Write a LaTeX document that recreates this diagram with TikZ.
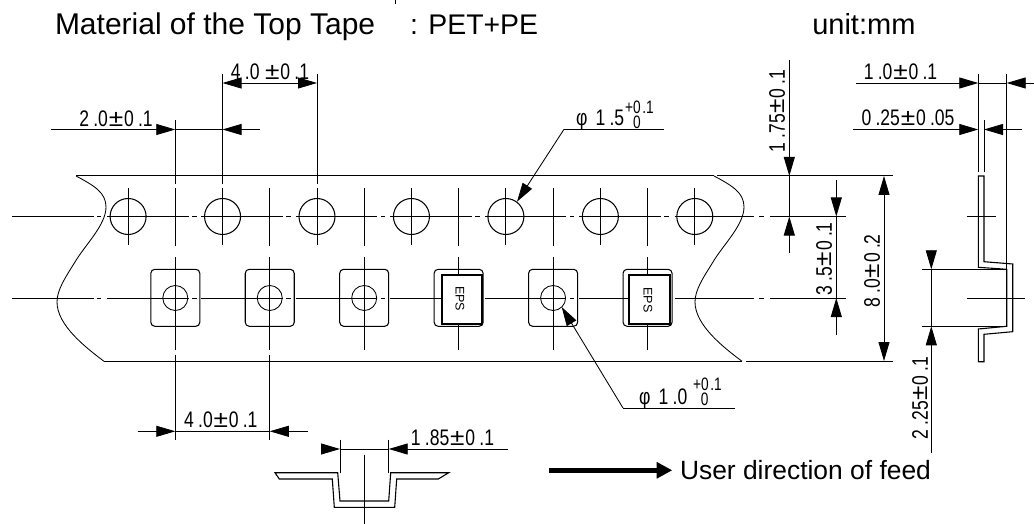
\documentclass[tikz,border=0pt]{standalone}
\usepackage{fontspec}
\usepackage{graphicx}
\setmainfont{Liberation Sans}
\usetikzlibrary{arrows.meta}
\newcommand{\dimt}[1]{\scalebox{.78}[1]{\fontsize{22.5}{22.5}\selectfont #1}}
\newcommand{\tolt}[1]{\scalebox{.76}[1]{\fontsize{18}{18}\selectfont #1}}
\newcommand{\gp}{\kern5.5pt}
\newcommand{\tgp}{\kern2pt}
\newcommand{\pmk}{\kern1pt\scalebox{1.5}[1.05]{±}\kern1pt}
\tikzset{
  thin line/.style={line width=.85pt,black},
  edge line/.style={line width=1.2pt,black},
  tip/.style={thin line,-{Triangle[length=19pt,width=11pt,sep=0pt]}},
  label/.style={inner sep=0pt,outer sep=0pt,anchor=center,text=black},
  big/.style={inner sep=0pt,outer sep=0pt,anchor=base west,font=\fontsize{29}{30}\selectfont},
  feed/.style={inner sep=0pt,outer sep=0pt,anchor=base west,font=\fontsize{26.4}{28}\selectfont},
  pocket/.style={line width=1.05pt,rounded corners=4pt},
  die/.style={line width=2pt,fill=white},
  section/.style={line width=1.1pt,line join=miter}
}
\begin{document}
\begin{tikzpicture}[x=1pt,y=-1pt]
\useasboundingbox (0,0) rectangle (1034,524);
\fill[white] (0,0) rectangle (1034,524);
% clipped descender of the line above
\draw[line width=1.4pt] (395.7,0) -- (395.7,4.5);
% titles
\node[big,font=\fontsize{30}{30}\selectfont] (title) at (55,34.5) {Material of the Top Tape};
\node[big,font=\fontsize{28.4}{30}\selectfont] (mat) at (410,34.5) {: PET+PE};
\node[big] (unit) at (812.3,35) {unit:mm};
% tape edges
\draw[edge line] (76,175.7) -- (714,175.7);
\draw[edge line] (717,175.7) -- (893,175.7);
\draw[edge line] (104,361.3) -- (742,361.3);
\draw[edge line] (746,361.3) -- (893,361.3);
\foreach \s in {0,638}{
  \begin{scope}[xshift=\s pt]
  \draw[thin line] (76,176) .. controls (95,186) and (106,193) .. (106,207)
     .. controls (106,225) and (85,245) .. (75,262)
     .. controls (65,278) and (57,290) .. (57,302)
     .. controls (57,325) and (85,347) .. (104,361.3);
  \end{scope}
}
% centre lines (chain lines)
\foreach \y in {216.5,298}{
  \draw[thin line] (12,\y) -- (94,\y);
  \draw[thin line] (97,\y) -- (101,\y);
  \foreach \k in {0,...,5}{
    \draw[thin line] ({107+94.45*\k},\y) -- ({188.5+94.45*\k},\y);
    \draw[thin line] ({192+94.45*\k},\y) -- ({196.5+94.45*\k},\y);
  }
  \draw[thin line] (674.7,\y) -- (754,\y);
  \draw[thin line] (759,\y) -- (764,\y);
  \draw[thin line] (770,\y) -- (846,\y);
}
% sprocket holes
\foreach \k in {0,...,6}{
  \draw[line width=1.05pt] ({128.1+94.45*\k},216.5) circle[radius=18];
  \draw[thin line] ({128.1+94.45*\k},188) -- ({128.1+94.45*\k},245);
}
% mid vertical lines
\foreach \k in {0,...,5}{
  \draw[thin line] ({175.3+94.45*\k},188) -- ({175.3+94.45*\k},246);
  \draw[thin line] ({175.3+94.45*\k},257) -- ({175.3+94.45*\k},350);
}
% pockets
\foreach \k in {0,...,5}{
  \draw[pocket] ({150.8+94.45*\k},269.3) rectangle ({199.8+94.45*\k},326.3);
}
\foreach \k in {0,1,2,4}{
  \draw[thin line] ({175.3+94.45*\k},298) circle[radius=12.5];
}
\draw[die] (441.5,274.5) rectangle (481.5,323.5);
\draw[die] (629,274.7) rectangle (669.5,324);
\node[label,rotate=-90,font=\fontsize{12.5}{13}\selectfont] (eps1) at (460,298.7) {EPS};
\node[label,rotate=-90,font=\fontsize{12.5}{13}\selectfont] (eps2) at (648,300) {EPS};
% 4.0 +- 0.1 top
\draw[thin line] (222.5,74) -- (222.5,184);
\draw[thin line] (317,74) -- (317,184);
\draw[thin line] (241,83) -- (298,83);
\draw[tip] (241,83) -- (222.5,83);
\draw[tip] (298,83) -- (317,83);
\node[label] (d40a) at (270,72) {\dimt{4\gp.0 \pmk0\gp.1}};
% 2.0 +- 0.1
\draw[thin line] (175.3,120) -- (175.3,184);
\draw[tip] (51,129.5) -- (175.3,129.5);
\draw[thin line] (175.3,129.5) -- (222.5,129.5);
\draw[tip] (260,129.5) -- (222.5,129.5);
\node[label] (d20) at (116,118.5) {\dimt{2\gp.0\pmk0\gp.1}};
% 4.0 +- 0.1 bottom
\draw[thin line] (175.3,354.5) -- (175.3,440.3);
\draw[thin line] (269.75,354.5) -- (269.75,440.3);
\draw[tip] (137.7,431.3) -- (175.3,431.3);
\draw[thin line] (175.3,431.3) -- (269.75,431.3);
\draw[tip] (307.7,431.3) -- (269.75,431.3);
\node[label] (d40b) at (220.8,420) {\dimt{4\gp.0\pmk0\gp.1}};
% phi 1.5 leader
\coordinate (l15a) at (664,129.3);
\coordinate (l15b) at (564,129.3);
\coordinate (l15c) at (517,201.7);
\draw[thin line] (l15a) -- (l15b);
\draw[tip] (l15b) -- (l15c);
\node[inner sep=0pt,anchor=base west] (p15) at (576,126) {\dimt{φ\kern4pt{} 1\gp.5}};
\node[label] (p15u) at (639.5,107) {\tolt{+0\tgp.1}};
\node[label] (p15l) at (637,122) {\tolt{0}};
% phi 1.0 leader
\coordinate (l10a) at (734.7,408);
\coordinate (l10b) at (623,408);
\coordinate (l10c) at (561.7,307);
\draw[thin line] (l10a) -- (l10b);
\draw[tip] (l10b) -- (l10c);
\node[inner sep=0pt,anchor=base west] (p10) at (639,404.7) {\dimt{φ\kern4pt{} 1\gp.0}};
\node[label] (p10u) at (707.5,384.5) {\tolt{+0\tgp.1}};
\node[label] (p10l) at (704.6,399.5) {\tolt{0}};
% 1.75
\draw[thin line] (789.3,176) -- (789.3,216.5);
\draw[tip] (789.3,60) -- (789.3,176);
\draw[tip] (789.3,253) -- (789.3,216.5);
\draw[edge line] (770,216.5) -- (799,216.5);
\node[label,rotate=90] (d175) at (777,111) {\dimt{1\gp.75\pmk0\gp.1}};
% 3.5
\draw[thin line] (836.3,216.5) -- (836.3,298);
\draw[tip] (836.3,180) -- (836.3,216.5);
\draw[tip] (836.3,334.7) -- (836.3,298);
\node[label,rotate=90] (d35) at (824,259) {\dimt{3\gp.5\pmk0\gp.1}};
% 8.0
\draw[thin line] (884,195) -- (884,342);
\draw[tip] (884,195) -- (884,176);
\draw[tip] (884,342) -- (884,361);
\node[label,rotate=90] (d80) at (872,271) {\dimt{8\gp.0\pmk0\gp.2}};
% 1.0 / 0.25
\draw[thin line] (978.3,74) -- (978.3,172);
\draw[thin line] (1006.7,74) -- (1006.7,326.3);
\draw[thin line] (984,120) -- (984,172);
\draw[tip] (856,83) -- (978.3,83);
\draw[thin line] (978.3,83) -- (1006.7,83);
\draw[tip] (1034,83) -- (1006.7,83);
\node[label] (d10) at (900.5,72) {\dimt{1\gp.0\pmk0\gp.1}};
\draw[tip] (853,129.5) -- (978.3,129.5);
\draw[tip] (1022,129.5) -- (984,129.5);
\node[label] (d025) at (908,118) {\dimt{0\gp.25\pmk0\gp.05}};
% side section
\draw[section] (978.3,176) -- (984,176) -- (984,261.7) -- (1012.7,264) -- (1012.7,331.7)
  -- (984,334.3) -- (984,361.7) -- (978.3,361.7) -- (978.3,329) -- (1006.7,326.3)
  -- (1006.7,269.3) -- (978.3,267.3) -- cycle;
\draw[thin line] (966.7,216.5) -- (996,216.5);
\draw[thin line] (966.7,298) -- (1024.5,298);
% 2.25
\draw[thin line] (921.7,269.3) -- (1006.7,269.3);
\draw[thin line] (921.7,326.3) -- (1006.7,326.3);
\draw[tip] (931.3,250.5) -- (931.3,269.3);
\draw[thin line] (931.3,269.3) -- (931.3,326.3);
\draw[tip] (931.3,452.7) -- (931.3,326.3);
\node[label,rotate=90] (d225) at (920,398) {\dimt{2\gp.25\pmk0\gp.1}};
% bottom section
\draw[section] (275,472.7) -- (337.7,472.7) -- (340,501) -- (388.7,501) -- (390.7,472.7)
  -- (448.7,472.7) -- (438.3,479) -- (396.7,479) -- (394.7,507.3) -- (334.3,507.3)
  -- (332.3,479) -- (279.3,479) -- cycle;
\draw[thin line] (364.3,454.7) -- (364.3,524);
\draw[thin line] (340,439.7) -- (340,473);
\draw[thin line] (388.7,439.7) -- (388.7,473);
\draw[tip] (321,449) -- (340,449);
\draw[thin line] (340,449) -- (388.7,449);
\draw[tip] (508,449) -- (388.7,449);
\node[label] (d185) at (452.5,438) {\dimt{1\gp.85\pmk0\gp.1}};
% feed arrow
\draw[line width=5.5pt,-{Triangle[length=15.6pt,width=15.6pt,sep=0pt]}] (549,470.3) -- (672.3,470.3);
\node[feed] (feedtxt) at (680,479) {User direction of feed};
\end{tikzpicture}
\end{document}
